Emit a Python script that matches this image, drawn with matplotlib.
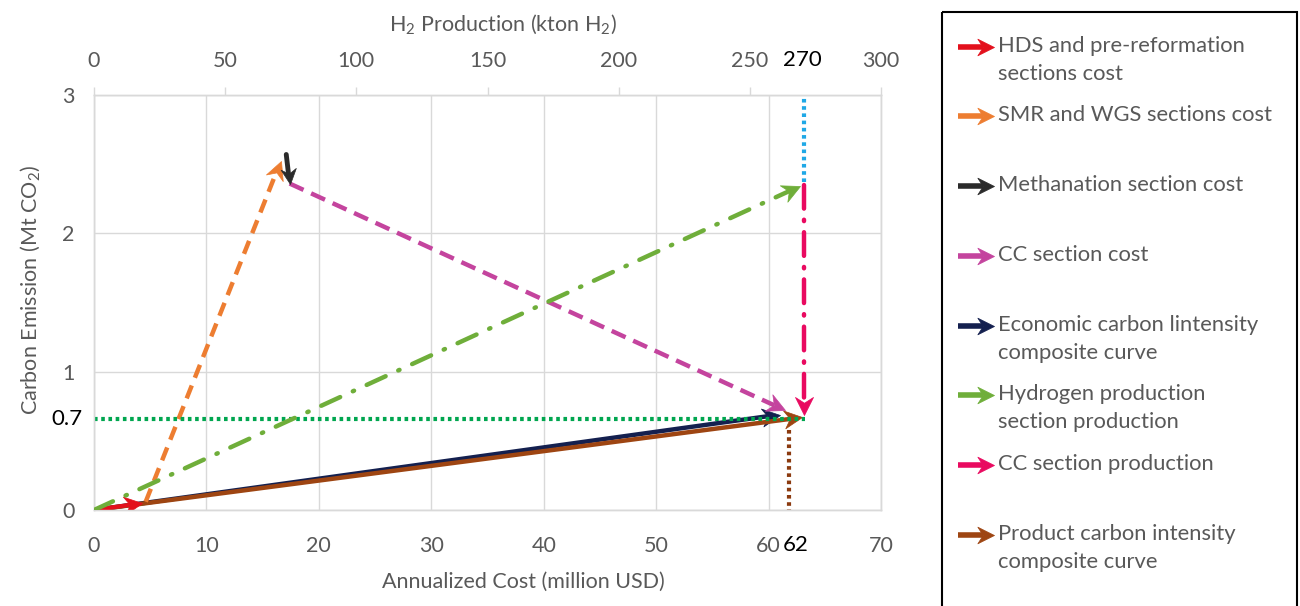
import numpy as np
import matplotlib
matplotlib.use("Agg")
import matplotlib.pyplot as plt
from matplotlib.path import Path
from matplotlib.markers import MarkerStyle
from matplotlib.transforms import Affine2D
from matplotlib.patches import Rectangle

plt.rcParams['font.family'] = ['Lato', 'DejaVu Sans']
plt.rcParams['mathtext.fontset'] = 'custom'
plt.rcParams['mathtext.rm'] = 'Lato'
plt.rcParams['mathtext.it'] = 'Lato:italic'
plt.rcParams['lines.scale_dashes'] = False

# data (cost axis: million USD, emission: Mt CO2, production axis: kton H2)
hds_x, hds_y = [0, 4.3], [0, 0.05]
smr_x, smr_y = [4.6, 16.6], [0.06, 2.52]
meth_x, meth_y = [17.1, 17.4], [2.57, 2.36]
cc_x, cc_y = [17.4, 61.5], [2.36, 0.72]
econ_x, econ_y = [0, 61.0], [0, 0.69]
prod_x, prod_y = [0, 63.0], [0, 0.67]
h2_x, h2_y = [0, 269], [0, 2.34]          # on production axis
ccprod_x, ccprod_y = [270.5, 270.5], [2.35, 0.69]
cap_x, cap_y = [270.5, 270.5], [2.37, 3.0]
ref_y_x, ref_y_y = [0, 271], [0.66, 0.66]
ref_x_x, ref_x_y = [61.8, 61.8], [0.58, 0]

x_ticks = [0, 10, 20, 30, 40, 50, 60, 70]
top_ticks = [0, 50, 100, 150, 200, 250, 300]
y_ticks = [0, 1, 2, 3]

legend_labels = ['HDS and pre-reformation\nsections cost', 'SMR and WGS sections cost',
                 'Methanation section cost', 'CC section cost',
                 'Economic carbon lintensity\ncomposite curve',
                 'Hydrogen production\nsection production', 'CC section production',
                 'Product carbon intensity\ncomposite curve']
legend_colors = ['#E3101C', '#ED7D31', '#2B2B2B', '#C4449E', '#14204F',
                 '#6FAE3A', '#E90A60', '#9E4512']

GRAY = '#595959'
GRID = '#D9D9D9'

head = Path([(0, 0), (-1, 0.5), (-0.68, 0), (-1, -0.5), (0, 0)],
            [Path.MOVETO, Path.LINETO, Path.LINETO, Path.LINETO, Path.CLOSEPOLY])


def arrow(ax, xs, ys, color, lw=3, ms=26, z=3, cap='butt', **kw):
    p0 = ax.transData.transform((xs[0], ys[0]))
    p1 = ax.transData.transform((xs[1], ys[1]))
    d = p1 - p0
    ang = np.degrees(np.arctan2(d[1], d[0]))
    u = d / np.hypot(*d)
    back = ms / 2 * 0.68 * 100 / 72
    pe = ax.transData.inverted().transform(p1 - u * back)
    ax.plot([xs[0], pe[0]], [ys[0], pe[1]], color=color, lw=lw, zorder=z,
            solid_capstyle=cap, dash_capstyle=cap, **kw)
    m = MarkerStyle(head, transform=Affine2D().rotate_deg(ang))
    ax.plot([xs[1]], [ys[1]], marker=m, ms=ms, color=color, mec=color, mew=0.5,
            ls='none', zorder=z + 0.5)


fig = plt.figure(figsize=(13, 6.06), dpi=100)
ax = fig.add_axes([94 / 1300, 1 - 510 / 606, 787 / 1300, 415 / 606])
ax.set_xlim(0, 70)
ax.set_ylim(0, 3)
ax2 = ax.twiny()
ax2.set_xlim(0, 300)
ax2.set_position(ax.get_position())

ax.set_xticks(x_ticks)
ax.set_yticks(y_ticks)
ax.grid(True, color=GRID, lw=1, zorder=0)
ax.tick_params(axis='x', length=0, pad=19, labelsize=15.5, labelcolor=GRAY)
ax.tick_params(axis='y', length=0, pad=14, labelsize=15.5, labelcolor=GRAY)
for a in (ax, ax2):
    for s in a.spines.values():
        s.set_color(GRID)
        s.set_linewidth(1)
ax2.set_xticks(top_ticks)
ax2.tick_params(axis='x', length=6, width=1, color=GRID, pad=11, labelsize=15.5,
                labelcolor=GRAY)

ax.set_xlabel('Annualized Cost (million USD)', fontsize=15.5, color=GRAY)
ax.xaxis.set_label_coords(0.545, -0.15)
ax.set_ylabel('Carbon Emission (Mt CO$_2$)', fontsize=15.5, color=GRAY)
ax.yaxis.set_label_coords(-0.066, 0.53)
ax2.set_xlabel('H$_2$ Production (kton H$_2$)', fontsize=15.5, color=GRAY)
ax2.xaxis.set_label_coords(0.52, 1.155)

# reference lines
ax2.plot(ref_y_x, ref_y_y, color='#00A64F', lw=3, dashes=(2.6, 2.6), zorder=2)
ax.plot(ref_x_x, ref_x_y, color='#8B3A0F', lw=3, dashes=(2.6, 2.6), zorder=2)
ax2.plot(cap_x, cap_y, color='#1FA8E6', lw=3, dashes=(2.6, 2.6), zorder=2)

# arrows
arrow(ax, econ_x, econ_y, legend_colors[4], lw=3.2, z=3)
arrow(ax, prod_x, prod_y, legend_colors[7], lw=3.2, z=4)
arrow(ax, hds_x, hds_y, legend_colors[0], lw=3, z=5)
arrow(ax, smr_x, smr_y, legend_colors[1], lw=3.2, z=5, dashes=(10, 6))
arrow(ax, cc_x, cc_y, legend_colors[3], lw=3.2, z=5, dashes=(11, 6))
arrow(ax, meth_x, meth_y, legend_colors[2], lw=3.5, ms=22, z=6, cap='round')
arrow(ax2, h2_x, h2_y, legend_colors[5], lw=3.2, z=5, cap='round',
      dashes=(15, 10, 1, 10))
arrow(ax2, ccprod_x, ccprod_y, legend_colors[6], lw=3.2, z=5, cap='round',
      dashes=(17, 8, 1, 8))

# value annotations
ax.text(-1.0, 0.66, '0.7', ha='right', va='center', fontsize=16, color='black')
ax.text(62.4, -0.255, '62', ha='center', va='center', fontsize=16, color='black')
ax2.text(270, 3.25, '270', ha='center', va='center', fontsize=16, color='black')

# legend panel
lg = fig.add_axes([0, 0, 1, 1])
lg.set_xlim(0, 1300)
lg.set_ylim(606, 0)
lg.axis('off')
lg.add_patch(Rectangle((942, 12), 355, 620, fill=False, ec='black', lw=1.5,
                       clip_on=False))
entry_y = [47, 116, 186, 256, 326, 395, 465, 535]
for lab, col, yy in zip(legend_labels, legend_colors, entry_y):
    arrow(lg, [958, 994], [yy, yy], col, lw=4, ms=24, z=3)
    lg.text(998, yy - 11, lab, ha='left', va='top', fontsize=15.8, color=GRAY,
            linespacing=1.5)

fig.savefig('out.png', dpi=100)
